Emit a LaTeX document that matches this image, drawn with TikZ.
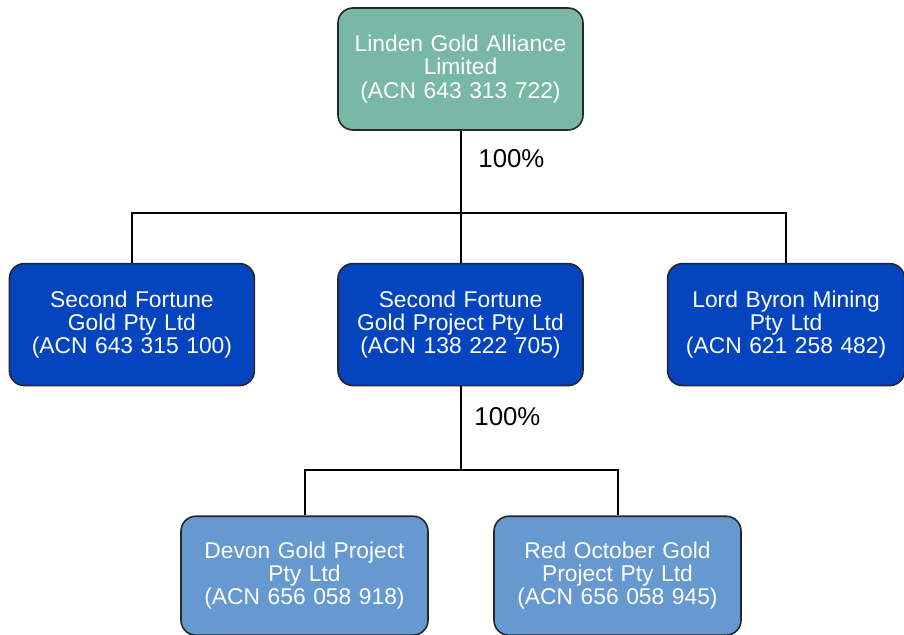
\documentclass[tikz,border=0pt]{standalone}
\usepackage{fontspec}
\setmainfont{Liberation Sans}
\usetikzlibrary{positioning}
\definecolor{parentgreen}{RGB}{122,184,166}
\definecolor{subblue}{RGB}{4,68,191}
\definecolor{projblue}{RGB}{102,153,208}

\begin{document}
\begin{tikzpicture}[
  node distance=66pt and 41pt,
  entity/.style={draw=black!85,line width=0.8pt,rounded corners=7.5pt,text=white,
    inner sep=0pt,text width=122.5pt,minimum height=61pt,align=center,
    font=\fontsize{11.4}{11.6}\selectfont},
  pct/.style={inner sep=0pt,anchor=west,font=\fontsize{12.9}{13}\selectfont},
  link/.style={line width=1pt}
]
\useasboundingbox (0,0) rectangle (452pt,-317.5pt);

\node[entity, fill=parentgreen] (lga) at (230.25pt,-34.5pt) {Linden Gold Alliance\\Limited\\(ACN 643 313 722)};
\node[entity, fill=subblue, below=of lga] (sfgp) {Second Fortune\\Gold Project Pty Ltd\\(ACN 138 222 705)};
\node[entity, fill=subblue, left=of sfgp] (sfg) {Second Fortune\\Gold Pty Ltd\\(ACN 643 315 100)};
\node[entity, fill=subblue, right=41.5pt of sfgp, text width=118.5pt] (lbm) {Lord Byron Mining\\Pty Ltd\\(ACN 621 258 482)};
\node[entity, fill=projblue, below=64.5pt of sfgp, xshift=-78pt, text width=123.5pt, minimum height=59.5pt] (devon) {Devon Gold Project\\Pty Ltd\\(ACN 656 058 918)};
\node[entity, fill=projblue, below=64.5pt of sfgp, xshift=78.5pt, text width=123.5pt, minimum height=59.5pt] (redoct) {Red October Gold\\Project Pty Ltd\\(ACN 656 058 945)};

\coordinate[below=41pt of lga.south] (bus1);
\coordinate[below=42pt of sfgp.south] (bus2);

\draw[link] (lga.south) -- (sfgp.north);
\draw[link] (sfg.north) |- (bus1) -| (lbm.north);
\draw[link] (sfgp.south) -- (bus2);
\draw[link] (devon.north) |- (bus2) -| (redoct.north);

\node[pct] (pct1) at ([xshift=8.75pt,yshift=-14pt]lga.south) {100\%};
\node[pct] (pct2) at ([xshift=6.75pt,yshift=-15pt]sfgp.south) {100\%};

\end{tikzpicture}
\end{document}
